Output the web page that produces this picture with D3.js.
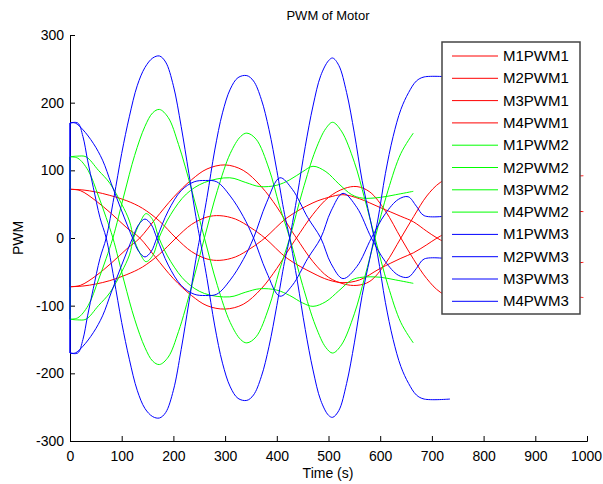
<!DOCTYPE html>
<html>
<head>
<meta charset="utf-8">
<script src="https://cdn.jsdelivr.net/npm/d3@7"></script>
<style>
body { margin: 0; background: #fff; }
text { font-family: "Liberation Sans", Arial, sans-serif; }
</style>
</head>
<body>
<svg width="603" height="484"></svg>
<script>
const xTicks = [0, 100, 200, 300, 400, 500, 600, 700, 800, 900, 1000]
const yTicks = [-300, -200, -100, 0, 100, 200, 300]
const names = ['M1PWM1', 'M2PWM1', 'M3PWM1', 'M4PWM1', 'M1PWM2', 'M2PWM2', 'M3PWM2', 'M4PWM2', 'M1PWM3', 'M2PWM3', 'M3PWM3', 'M4PWM3']
const colors = ['#ff0000', '#ff0000', '#ff0000', '#ff0000', '#00ff00', '#00ff00', '#00ff00', '#00ff00', '#0000ff', '#0000ff', '#0000ff', '#0000ff']

// [time, pwm] points
const m1pwm1 = [[0,0],[0,72],[20,70],[50,55],[80,36],[110,15],[135,0],[165,-28],[200,-60],[235,-85],[265,-100],[300,-105],[335,-98],[370,-75],[400,-45],[425,-15],[438,0],[470,35],[500,60],[530,73],[555,76],[580,68],[610,40],[640,0],[665,-32],[690,-60],[716,-80],[760,-96],[820,-100],[880,-92],[940,-86],[993,-88]]
const m2pwm1 = [[0,0],[0,72],[25,71],[50,68],[77,63],[110,55],[140,44],[173,25],[205,0],[235,-20],[265,-31],[290,-33],[320,-28],[350,-15],[377,0],[420,30],[470,52],[500,60],[528,64],[560,58],[600,45],[640,32],[664,24],[690,10],[710,0],[740,-12],[800,-28],[860,-38],[920,-40],[993,-36]]
const m3pwm1 = [[0,0],[0,-72],[25,-71],[50,-68],[77,-63],[110,-54],[140,-43],[173,-24],[205,0],[235,20],[265,31],[290,33],[320,28],[350,15],[377,0],[420,-30],[470,-52],[500,-62],[528,-66],[560,-62],[600,-45],[640,-30],[664,-22],[690,-10],[710,0],[740,12],[800,28],[860,36],[920,40],[993,39]]
const m4pwm1 = [[0,0],[0,-72],[20,-70],[50,-56],[80,-37],[110,-16],[135,0],[165,28],[200,60],[235,86],[265,102],[300,108],[335,100],[370,76],[400,46],[425,15],[438,0],[470,-35],[500,-58],[530,-68],[555,-70],[580,-64],[610,-38],[640,0],[665,32],[690,62],[716,82],[760,98],[820,104],[880,98],[940,92],[993,92]]

const m1pwm2 = [[0,0],[0,120],[15,118],[35,100],[55,62],[70,30],[83,0],[105,-65],[125,-120],[145,-162],[160,-182],[173,-187],[190,-176],[210,-138],[235,-72],[260,0],[285,70],[310,125],[330,150],[342,155],[360,146],[385,102],[405,48],[425,0],[450,-70],[475,-130],[495,-162],[508,-170],[525,-158],[550,-112],[570,-58],[590,0],[615,70],[640,125],[664,155]]
const m2pwm2 = [[0,0],[0,-120],[15,-118],[35,-100],[55,-62],[70,-30],[83,0],[105,65],[125,122],[145,165],[160,185],[173,190],[190,178],[210,138],[235,72],[260,0],[285,-70],[310,-125],[330,-150],[342,-155],[360,-146],[385,-102],[405,-48],[425,0],[450,70],[475,130],[495,162],[508,171],[525,158],[550,112],[570,58],[590,0],[615,-70],[640,-125],[664,-155]]
const m3pwm2 = [[0,0],[0,120],[15,121],[31,120],[55,100],[77,81],[100,50],[115,25],[123,0],[135,-22],[147,-35],[160,-26],[172,0],[195,35],[225,65],[260,82],[309,89],[340,82],[367,76],[400,78],[425,86],[450,98],[470,106],[495,98],[520,80],[545,64],[565,59],[600,60],[630,64],[664,69]]
const m4pwm2 = [[0,0],[0,-120],[15,-121],[31,-120],[55,-100],[77,-81],[100,-50],[115,-25],[123,0],[135,22],[147,36],[160,27],[172,0],[195,-35],[225,-65],[260,-82],[309,-87],[340,-80],[367,-75],[400,-77],[425,-85],[450,-96],[470,-101],[495,-94],[520,-78],[545,-62],[565,-58],[600,-58],[630,-62],[664,-67]]

const m1pwm3 = [[0,0],[0,170],[15,170],[25,150],[34,115],[45,75],[58,30],[70,0],[85,-60],[100,-125],[115,-180],[130,-225],[145,-252],[160,-264],[173,-266],[185,-258],[200,-225],[215,-165],[230,-95],[245,-25],[251,0],[265,60],[280,130],[295,185],[310,220],[325,237],[342,240],[355,232],[370,205],[385,160],[400,100],[415,35],[425,0],[440,-65],[455,-135],[470,-195],[485,-240],[500,-262],[508,-265],[520,-255],[535,-215],[550,-155],[565,-85],[580,-30],[595,25],[610,95],[625,150],[640,190],[655,215],[670,232],[685,238],[735,238]]
const m2pwm3 = [[0,0],[0,-170],[15,-170],[25,-150],[34,-115],[45,-75],[58,-30],[70,0],[85,60],[100,125],[115,180],[130,225],[145,252],[160,266],[173,269],[185,260],[200,225],[215,165],[230,95],[245,25],[251,0],[265,-60],[280,-130],[295,-185],[310,-220],[325,-237],[342,-240],[355,-232],[370,-205],[385,-160],[400,-100],[415,-35],[425,0],[440,65],[455,135],[470,195],[485,240],[500,262],[508,266],[520,255],[535,215],[550,155],[565,85],[580,30],[595,-25],[610,-95],[625,-150],[640,-190],[655,-215],[670,-232],[685,-238],[735,-238]]
const m3pwm3 = [[0,0],[0,170],[10,170],[25,160],[45,140],[63,115],[80,80],[100,40],[121,0],[133,-20],[145,-28],[157,-20],[168,0],[190,40],[215,70],[240,83],[262,85],[284,83],[310,62],[335,32],[355,0],[380,-50],[406,-86],[430,-70],[460,-30],[485,0],[505,40],[528,66],[555,45],[583,0],[610,-35],[635,-55],[654,-58],[670,-45],[685,-31],[735,-31]]
const m4pwm3 = [[0,0],[0,-170],[10,-170],[25,-160],[45,-140],[63,-115],[80,-80],[100,-40],[121,0],[133,20],[145,28],[157,20],[168,0],[190,-40],[215,-70],[240,-83],[262,-85],[284,-83],[310,-62],[335,-32],[355,0],[380,52],[406,89],[430,72],[460,30],[485,0],[505,-38],[528,-60],[555,-42],[583,0],[610,36],[635,57],[654,61],[670,47],[685,33],[735,33]]

const series = [m1pwm1, m2pwm1, m3pwm1, m4pwm1, m1pwm2, m2pwm2, m3pwm2, m4pwm2, m1pwm3, m2pwm3, m3pwm3, m4pwm3]

const svg = d3.select('svg'),
    margin = {top: 35, right: 16, bottom: 43, left: 70},
    width = svg.attr('width') - margin.left - margin.right,
    height = svg.attr('height') - margin.top - margin.bottom,
    x = d3.scaleLinear().domain([0, 1000]).range([0, width]),
    y = d3.scaleLinear().domain([-300, 300]).range([height, 0]),
    g = svg.append('g').attr('transform', `translate(${margin.left}, ${margin.top})`)

// axes first so the data sits on top of them, ticks pointing inward
const fmt = d => String(d)
const xAxis = g.append('g')
    .attr('transform', `translate(0, ${height})`)
    .call(d3.axisBottom(x).tickValues(xTicks).tickFormat(fmt).tickSize(-5).tickPadding(10))
const yAxis = g.append('g')
    .call(d3.axisLeft(y).tickValues(yTicks).tickFormat(fmt).tickSize(-5).tickPadding(10))
for (const a of [xAxis, yAxis]) {
    a.selectAll('text').attr('font-size', 14).attr('fill', '#000').attr('font-family', '"Liberation Sans", Arial, sans-serif')
    a.selectAll('line').attr('stroke', '#000')
    a.select('.domain').attr('stroke', '#000')
}
yAxis.selectAll('text').attr('dx', 4)
xAxis.selectAll('text').filter(d => d === 1000).attr('dx', -1)

// the jump at t=0 is a straight segment, the rest is smoothed
const smooth = d3.line().x(d => x(d[0])).y(d => y(d[1])).curve(d3.curveCatmullRom)
const path = d => `M${x(d[0][0])},${y(d[0][1])}L` + smooth(d.slice(1)).slice(1)

g.selectAll('.series')
    .data(series)
    .enter().append('path')
    .attr('class', 'series')
    .attr('fill', 'none')
    .attr('stroke', (d, i) => colors[i])
    .attr('stroke-width', 1)
    .attr('d', path)

svg.append('text').attr('x', 328).attr('y', 20).attr('text-anchor', 'middle').attr('font-size', 13).text('PWM of Motor')
svg.append('text').attr('x', 328).attr('y', 478).attr('text-anchor', 'middle').attr('font-size', 14).text('Time (s)')
svg.append('text').attr('transform', 'translate(23, 238) rotate(-90)').attr('text-anchor', 'middle').attr('font-size', 14).text('PWM')

// legend
const legend = svg.append('g').attr('transform', 'translate(442, 42)')
legend.append('rect').attr('width', 138).attr('height', 272).attr('fill', '#fff').attr('stroke', '#444').attr('stroke-width', 1.5)
const item = legend.selectAll('.item').data(names).enter().append('g')
    .attr('class', 'item')
    .attr('transform', (d, i) => `translate(0, ${14 + i * 22.3})`)
item.append('line').attr('x1', 10).attr('x2', 56).attr('stroke', (d, i) => colors[i])
item.append('text').attr('x', 61).attr('y', 5).attr('font-size', 15).text(d => d)
</script>
</body>
</html>
